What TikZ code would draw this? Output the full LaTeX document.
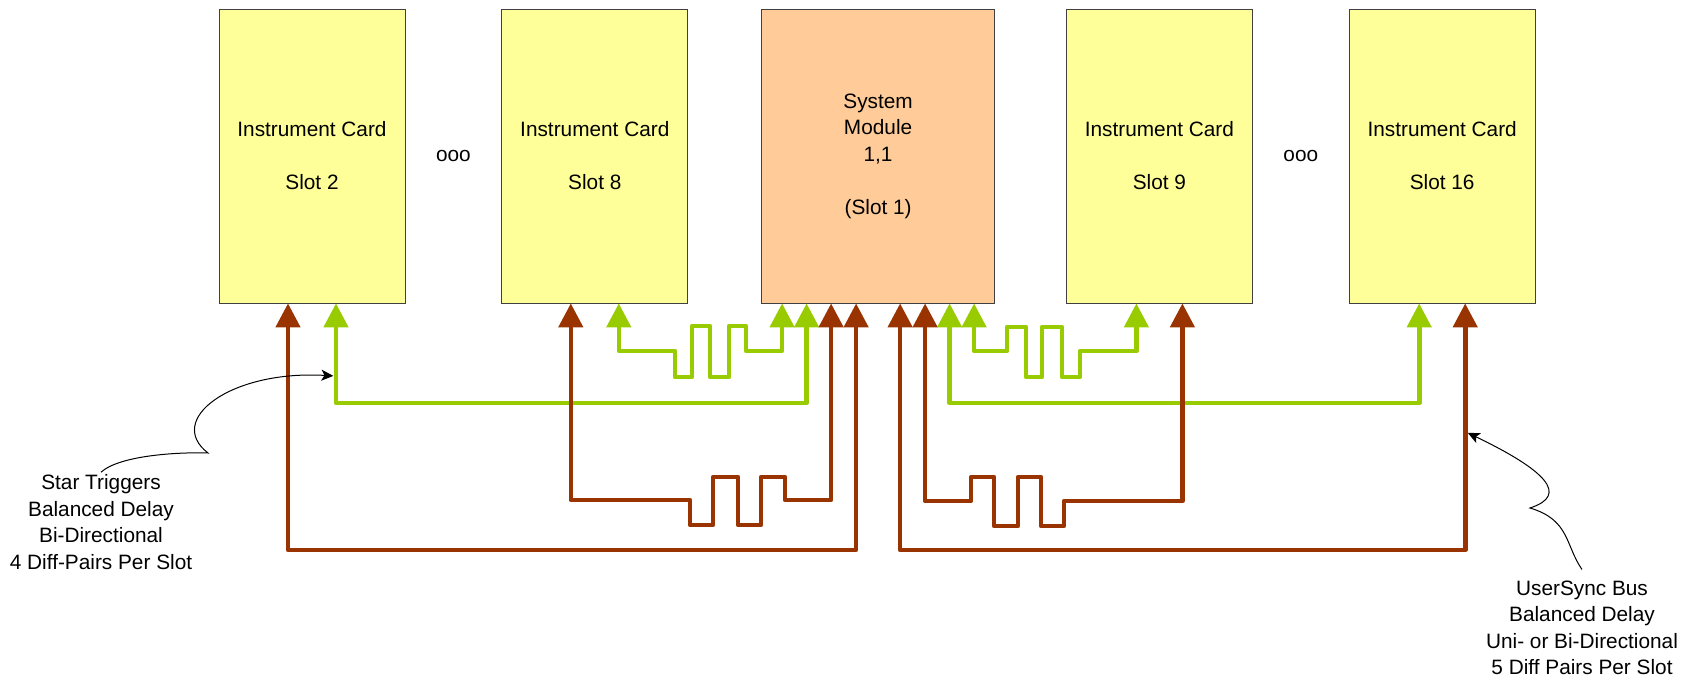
\documentclass[tikz,border=0pt]{standalone}
\usepackage{fontspec}
\setmainfont{Liberation Sans}
\usetikzlibrary{arrows.meta,positioning,calc}
\definecolor{cardyellow}{HTML}{FFFF99}
\definecolor{sysorange}{HTML}{FFCC99}
\definecolor{syncred}{HTML}{993300}
\definecolor{trigreen}{HTML}{99CC00}

\begin{document}
\begin{tikzpicture}[x=0.5pt, y=-0.5pt, node distance=48pt,
  every node/.style={font=\fontsize{10.4}{13.25}\selectfont},
  card/.style={draw=black!75, fill=cardyellow, align=center, minimum width=93pt, minimum height=147pt, inner sep=0pt},
  sysmod/.style={card, fill=sysorange, minimum width=116.5pt},
  bus/.style={line width=2.3pt, line join=round, {Triangle[length=12pt,width=12pt]}-{Triangle[length=12pt,width=12pt]}},
  rbus/.style={bus, draw=syncred},
  gbus/.style={bus, draw=trigreen},
  note/.style={line width=0.5pt, -{Stealth[length=6pt,width=5.5pt,inset=1.5pt]}},
  notetext/.style={align=center, inner sep=1pt}]
\useasboundingbox (0,0) rectangle (1694,678);
\node[card] (s2) at (312,156) {Instrument Card\\[13.25pt]Slot 2};
\node[card, right=of s2] (s8) {Instrument Card\\[13.25pt]Slot 8};
\node[sysmod, right=36.5pt of s8] (sys) {System\\Module\\1,1\\[13.25pt](Slot 1)};
\node[card, right=35.5pt of sys] (s9) {Instrument Card\\[13.25pt]Slot 9};
\node[card, right=of s9] (s16) {Instrument Card\\[13.25pt]Slot 16};
\node (gap1) at ($(s2.east)!0.5!(s8.west)$) {ooo};
\node (gap2) at ($(s9.east)!0.5!(s16.west)$) {ooo};

\foreach \c in {s2,s8} {
  \coordinate (\c r) at ([xshift=-12pt]\c.south);
  \coordinate (\c g) at ([xshift=12pt]\c.south);
}
\foreach \c in {s9,s16} {
  \coordinate (\c g) at ([xshift=-11.5pt]\c.south);
  \coordinate (\c r) at ([xshift=11.5pt]\c.south);
}
\foreach \p/\dx in {g1/-48,g2/-35.75,r1/-23.5,r2/-11,r3/11,r4/23.5,g3/35.75,g4/48}
  \coordinate (sys\p) at ([xshift=\dx pt]sys.south);

\draw[gbus] (s2g) -- ++(0,99.5) -| (sysg2);
\draw[gbus] (s8g) |- (675,351) |- (692,377) |- (710,326) |- (729,377) |- (746,326) |- (781,351) -| (sysg1);
\draw[gbus] (sysg4) |- (1007,351) |- (1026,327) |- (1042,377) |- (1062,327) |- (1080,377) |- (1135,351) -| (s9g);
\draw[gbus] (sysg3) -- ++(0,99.5) -| (s16g);

\draw[rbus] (s2r) -- ++(0,246.5) -| (sysr2);
\draw[rbus] (s8r) |- (690,500) |- (713,525) |- (738,477) |- (761,525) |- (785,477) |- (831,500) -| (sysr1);
\draw[rbus] (sysr4) |- (971,501) |- (994,477) |- (1018,526) |- (1041,477) |- (1064,526) |- (1181,501) -| (s9r);
\draw[rbus] (sysr3) -- ++(0,246.5) -| (s16r);

\node[notetext] (stnote) at (101,522) {Star Triggers\\Balanced Delay\\Bi-Directional\\4 Diff-Pairs Per Slot};
\node[notetext] (usnote) at (1582,628) {UserSync Bus\\Balanced Delay\\Uni- or Bi-Directional\\5 Diff Pairs Per Slot};
\coordinate (sttip) at ([xshift=-1.3pt,yshift=-36.25pt]s2g);
\coordinate (ustip) at ([xshift=1.3pt,yshift=-64.75pt]s16r);
\draw[note] (stnote.north) .. controls (120,455) and (180,452) .. (208,453) .. controls (165,420) and (230,370) .. (sttip);
\draw[note] ([yshift=4.5pt]usnote.north) .. controls (1565,545) and (1570,520) .. (1530,508) .. controls (1570,495) and (1545,470) .. (ustip);
\end{tikzpicture}
\end{document}
